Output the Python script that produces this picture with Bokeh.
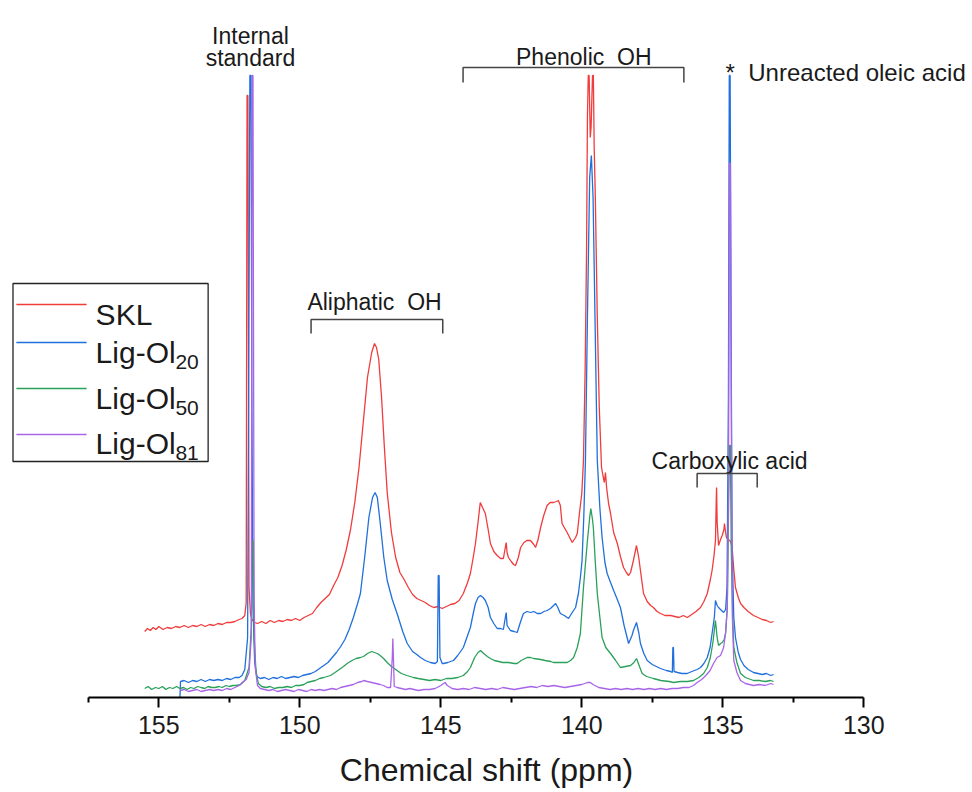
from bokeh.plotting import figure
from bokeh.models import Range1d, LinearAxis, FixedTicker
from bokeh.core.properties import value
from bokeh.embed import file_html
from bokeh.resources import INLINE

# ---------------- data ----------------
skl_ppm = [155.50,155.40,155.30,155.20,155.10,155.00,154.85,154.70,154.55,154.40,154.25,154.10,153.95,153.80,153.65,153.50,153.35,153.20,153.05,152.90,
           152.75,152.60,152.45,152.30,152.15,152.05,151.95,151.90,151.87,151.84,151.80,151.75,151.70,151.60,151.50,151.35,151.20,151.05,150.90,150.75,
           150.60,150.45,150.30,150.15,150.00,149.85,149.70,149.55,149.40,149.25,149.10,148.95,148.80,148.65,148.50,148.35,148.20,148.05,147.90,147.75,
           147.60,147.45,147.35,147.28,147.20,147.10,147.00,146.90,146.75,146.60,146.45,146.30,146.15,146.00,145.85,145.70,145.55,145.40,145.25,145.10,
           144.95,144.80,144.65,144.50,144.35,144.20,144.05,143.95,143.85,143.77,143.68,143.60,143.52,143.42,143.32,143.24,143.12,143.00,142.88,142.78,
           142.70,142.68,142.65,142.60,142.50,142.42,142.35,142.25,142.17,142.05,141.95,141.82,141.70,141.64,141.55,141.46,141.35,141.23,141.12,141.00,
           140.90,140.83,140.76,140.72,140.70,140.62,140.52,140.43,140.34,140.22,140.16,140.08,140.00,139.94,139.88,139.83,139.80,139.77,139.74,139.70,
           139.67,139.62,139.59,139.56,139.52,139.45,139.38,139.30,139.25,139.20,139.16,139.12,139.05,138.98,138.87,138.74,138.63,138.52,138.42,138.34,
           138.27,138.17,138.06,137.98,137.92,137.81,137.68,137.56,137.46,137.33,137.21,137.05,136.85,136.70,136.55,136.40,136.26,136.10,135.95,135.79,
           135.67,135.55,135.44,135.38,135.31,135.26,135.23,135.22,135.20,135.15,135.08,135.02,134.96,134.94,134.90,134.87,134.80,134.72,134.67,134.61,
           134.55,134.45,134.37,134.25,134.10,133.91,133.75,133.60,133.45,133.30,133.20]
skl_int = [66,69,67,70,68,71,68,70,69,71,70,72,70,72,71,73,71,73,72,74,
           73,75,75,76,78,79,82,95,602,602,110,84,78,75,74,76,74,77,75,77,
           76,78,77,79,77,80,82,84,90,95,99,103,112,120,132,148,168,195,230,275,
           320,345,354,350,338,300,250,205,165,140,125,118,110,103,99,97,95,92,90,91,
           89,91,93,94,97,104,115,124,140,154,175,195,190,184,168,154,146,142,139,139,
           152,155,145,140,136,133,132,140,150,155,157,157,153,150,158,170,182,192,195,195,
           196,197,192,180,174,170,165,160,155,160,164,185,204,237,330,450,580,622,622,560,
           570,622,622,550,500,380,290,230,222,215,225,210,194,184,165,154,141,130,125,122,
           125,137,152,140,127,104,96,92,90,86,84,82,82,81,80,82,80,83,86,90,
           96,104,118,127,142,157,200,210,175,152,158,162,168,174,165,160,158,156,150,128,
           110,100,94,90,86,82,80,78,77,75,76]

ol20_ppm = [154.25,154.23,154.10,153.95,153.80,153.65,153.50,153.35,153.20,153.05,152.90,152.75,152.60,152.45,152.30,152.15,152.05,151.95,151.85,151.80,
            151.77,151.73,151.70,151.66,151.60,151.52,151.40,151.25,151.10,150.95,150.80,150.65,150.50,150.35,150.20,150.05,149.90,149.75,149.60,149.45,
            149.30,149.15,149.00,148.85,148.70,148.55,148.40,148.25,148.10,147.95,147.85,147.70,147.55,147.42,147.33,147.25,147.15,147.02,146.90,146.72,
            146.55,146.35,146.19,146.00,145.85,145.72,145.55,145.37,145.20,145.12,145.09,145.06,145.03,144.95,144.90,144.75,144.55,144.40,144.20,144.05,
            143.95,143.85,143.77,143.68,143.59,143.50,143.42,143.32,143.24,143.12,143.00,142.88,142.78,142.70,142.68,142.65,142.53,142.40,142.29,142.18,
            142.07,141.94,141.82,141.70,141.58,141.46,141.34,141.23,141.11,141.00,140.93,140.85,140.76,140.62,140.47,140.34,140.22,140.12,140.05,139.99,
            139.93,139.87,139.80,139.72,139.66,139.60,139.52,139.45,139.36,139.28,139.18,139.10,138.98,138.87,138.74,138.63,138.50,138.34,138.22,138.17,
            138.06,137.98,137.92,137.80,137.68,137.50,137.21,137.00,136.85,136.79,136.77,136.75,136.73,136.60,136.45,136.26,136.10,135.91,135.79,135.67,
            135.55,135.45,135.38,135.30,135.26,135.20,135.15,135.08,134.97,134.90,134.85,134.80,134.77,134.74,134.71,134.67,134.61,134.55,134.45,134.37,
            134.25,134.10,133.91,133.75,133.60,133.45,133.30,133.20]
ol20_int = [0,16,17,15,17,16,18,16,18,17,18,17,19,18,20,20,22,28,60,400,
            622,622,300,90,35,21,19,20,18,20,19,21,19,20,21,20,22,23,24,26,
            29,32,35,40,45,51,58,68,80,94,104,140,180,200,205,200,175,140,117,98,
            84,66,54,46,43,40,37,35,34,36,122,122,40,34,34,35,37,42,50,62,
            70,84,94,100,102,100,97,90,80,74,69,69,68,82,85,72,67,66,65,75,
            84,86,85,86,84,84,86,87,89,92,94,90,84,82,79,85,90,104,120,137,
            180,237,380,520,542,500,360,237,190,160,135,124,115,107,98,90,72,54,62,67,
            75,65,54,44,37,33,29,27,26,25,50,50,26,25,24,24,26,28,30,34,
            40,50,64,80,97,92,90,88,85,88,110,300,622,622,400,150,80,60,45,38,
            32,28,25,24,23,24,22,23]

ol50_ppm = [155.50,155.38,155.25,155.12,155.00,154.87,154.75,154.62,154.50,154.37,154.25,154.12,154.00,153.87,153.75,153.62,153.50,153.37,153.25,153.12,
            153.00,152.87,152.75,152.62,152.50,152.37,152.25,152.10,151.95,151.80,151.72,151.68,151.65,151.62,151.55,151.47,151.35,151.20,151.05,150.90,
            150.75,150.60,150.45,150.30,150.15,150.00,149.85,149.74,149.60,149.45,149.30,149.15,148.91,148.75,148.60,148.45,148.32,148.15,148.00,147.85,
            147.74,147.60,147.45,147.35,147.25,147.15,147.03,146.90,146.75,146.55,146.40,146.20,145.97,145.80,145.60,145.40,145.20,145.00,144.80,144.60,
            144.40,144.20,144.05,143.95,143.80,143.68,143.59,143.48,143.35,143.24,143.10,142.95,142.80,142.60,142.40,142.29,142.15,141.94,141.82,141.70,
            141.46,141.30,141.10,141.00,140.80,140.52,140.40,140.29,140.16,140.05,139.94,139.81,139.72,139.68,139.62,139.59,139.52,139.45,139.35,139.28,
            139.15,138.98,138.80,138.63,138.45,138.27,138.15,138.06,137.98,137.86,137.70,137.46,137.20,136.90,136.75,136.50,136.25,136.04,135.85,135.68,
            135.55,135.44,135.35,135.26,135.20,135.15,135.08,135.02,134.95,134.90,134.84,134.79,134.76,134.73,134.70,134.65,134.61,134.50,134.37,134.20,
            133.91,133.70,133.50,133.30,133.20]
ol50_int = [9,11,8,10,9,11,8,10,9,11,9,10,8,10,9,11,10,9,11,10,
            10,11,10,12,11,12,12,13,17,30,70,157,157,60,25,14,11,10,11,9,
            10,10,11,10,12,12,13,15,16,17,19,20,22,25,28,31,34,37,39,40,
            41,44,46,45,44,42,39,35,31,27,24,22,20,19,18,17,18,17,19,19,
            20,22,26,30,40,45,47,44,41,39,37,36,35,35,34,34,37,40,40,39,
            38,37,36,35,35,35,37,40,50,64,110,154,180,189,178,170,135,104,78,60,
            50,44,37,30,31,32,35,39,33,24,21,19,17,16,15,16,16,17,20,24,
            30,40,55,77,60,52,54,55,58,64,90,200,252,252,150,80,50,35,24,20,
            17,17,16,17,16]

ol81_ppm = [154.23,154.10,153.95,153.80,153.65,153.50,153.35,153.20,153.05,152.90,152.75,152.60,152.45,152.30,152.15,152.00,151.90,151.80,151.72,151.69,
            151.66,151.62,151.58,151.50,151.40,151.25,151.10,150.95,150.80,150.65,150.50,150.35,150.20,150.05,149.90,149.75,149.60,149.45,149.30,149.15,
            149.00,148.85,148.70,148.55,148.40,148.25,148.10,147.95,147.80,147.74,147.60,147.45,147.30,147.15,147.03,146.90,146.78,146.72,146.70,146.68,
            146.65,146.55,146.40,146.25,146.10,145.95,145.80,145.60,145.40,145.20,145.00,144.85,144.77,144.60,144.40,144.20,144.00,143.80,143.60,143.40,
            143.20,143.00,142.80,142.60,142.40,142.20,142.00,141.80,141.60,141.40,141.20,141.00,140.80,140.60,140.40,140.20,140.00,139.80,139.70,139.60,
            139.40,139.20,139.00,138.80,138.60,138.40,138.20,138.00,137.80,137.60,137.40,137.20,137.00,136.80,136.60,136.40,136.20,136.04,135.91,135.75,
            135.60,135.45,135.33,135.20,135.08,134.97,134.90,134.84,134.80,134.76,134.73,134.70,134.66,134.61,134.50,134.37,134.20,133.91,133.70,133.50,
            133.30,133.20]
ol81_int = [7,8,6,7,8,6,7,8,7,8,7,9,8,10,12,16,18,25,60,622,
            622,100,30,12,9,8,7,8,6,7,8,7,6,8,7,6,8,7,8,7,
            8,9,8,10,11,12,13,15,16,17,16,15,14,13,12,10,10,40,59,40,
            11,10,9,8,9,8,7,8,8,9,12,15,12,9,8,9,8,10,9,8,
            9,8,10,9,8,9,10,11,10,12,11,12,11,10,11,12,13,15,15,13,
            10,9,8,9,8,9,8,9,8,9,8,9,8,9,9,10,10,12,15,18,
            22,27,34,40,42,50,65,90,200,534,534,300,80,37,25,17,14,12,13,12,
            14,13]

series_names = ["SKL", "Lig-Ol", "Lig-Ol", "Lig-Ol"]
series_subs = ["", "20", "50", "81"]
series_colors = ["#f03c3c", "#1f6fdc", "#2aa05a", "#a866e6"]

x_ticks = [155, 150, 145, 140, 135, 130]
x_minor = [157.5, 152.5, 147.5, 142.5, 137.5, 132.5]

FONT = value("Liberation Sans")
NBSP = "\u00a0"

# ---------------- figure ----------------
p = figure(width=972, height=792, output_backend="svg", toolbar_location=None,
           x_range=Range1d(160.613, 126.145), y_range=Range1d(0, 697),
           x_axis_location=None, y_axis_location=None,
           min_border_left=0, min_border_right=0, min_border_top=0, min_border_bottom=95)
p.outline_line_color = None
p.xgrid.visible = False
p.ygrid.visible = False
p.background_fill_color = "white"
p.border_fill_color = "white"

xs = [skl_ppm, ol20_ppm, ol50_ppm, ol81_ppm]
ys = [skl_int, ol20_int, ol50_int, ol81_int]
for xx, yy, c in zip(xs, ys, series_colors):
    p.line(xx, yy, line_color=c, line_width=1.3)

# axis
ax = LinearAxis(bounds=(130, 157.5),
                ticker=FixedTicker(ticks=x_ticks, minor_ticks=x_minor),
                axis_label="Chemical shift (ppm)")
ax.axis_line_width = 2
ax.axis_line_color = "black"
ax.major_tick_line_width = 2
ax.minor_tick_line_width = 2
ax.major_tick_out = 10
ax.major_tick_in = 0
ax.minor_tick_out = 5
ax.minor_tick_in = 0
ax.major_label_text_font = "Liberation Sans"
ax.major_label_text_font_size = "25px"
ax.major_label_text_color = "#1a1a1a"
ax.major_label_standoff = 8
ax.axis_label_text_font = "Liberation Sans"
ax.axis_label_text_font_size = "32px"
ax.axis_label_text_font_style = "normal"
ax.axis_label_text_color = "#1a1a1a"
ax.axis_label_standoff = 15
p.add_layout(ax, "below")

# annotations (text in ppm / intensity coordinates)
ann_x = [151.75, 151.75, 147.35, 139.93, 134.76]
ann_y = [662, 640, 396, 641, 237]
ann_t = ["Internal", "standard", "Aliphatic" + NBSP + " OH", "Phenolic" + NBSP + " OH", "Carboxylic acid"]
p.text(x=ann_x, y=ann_y, text=ann_t, text_font=FONT, text_font_size="23px",
       text_align="center", text_baseline="alphabetic", text_color="#1a1a1a")
p.text(x=[134.90], y=[625], text=["*" + NBSP + NBSP + "Unreacted oleic acid"], text_font=FONT,
       text_font_size="24px", text_align="left", text_baseline="alphabetic", text_color="#1a1a1a")

# brackets
brackets = [(149.60, 144.93, 378, 364), (144.21, 136.38, 630, 615), (135.91, 133.78, 224, 210)]
for x1, x2, ytop, yend in brackets:
    p.line([x1, x1, x2, x2], [yend, ytop, ytop, yend], line_color="#444444", line_width=1.5)

# legend (drawn manually so that subscripts are possible)
p.quad(left=[160.17], right=[153.25], bottom=[236], top=[414], fill_color=None,
       line_color="#222222", line_width=1.3)
leg_line_y = [393, 355, 309, 263]
leg_base_y = [383, 345, 299, 254]
for i in range(4):
    p.line([160.05, 157.56], [leg_line_y[i], leg_line_y[i]], line_color=series_colors[i], line_width=1.3)
p.text(x=[157.24] * 4, y=leg_base_y, text=series_names, text_font=FONT, text_font_size="30px",
       text_align="left", text_baseline="alphabetic", text_color="#1a1a1a")
p.text(x=[154.41] * 3, y=[b - 9 for b in leg_base_y[1:]], text=series_subs[1:], text_font=FONT,
       text_font_size="21px", text_align="left", text_baseline="alphabetic", text_color="#1a1a1a")

open("out.html", "w").write(file_html(p, INLINE))
